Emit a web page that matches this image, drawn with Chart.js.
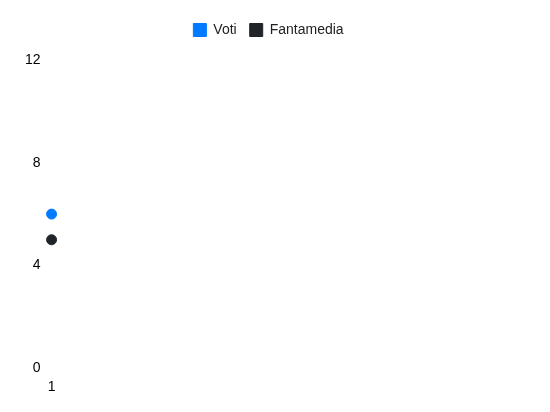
<!DOCTYPE html>
<html>
<head>
<meta charset="utf-8">
<script src="https://cdn.jsdelivr.net/npm/chart.js@4"></script>
<style>
  html, body { margin: 0; padding: 0; background: #fff; }
  #wrap { width: 550px; height: 412px; }
</style>
</head>
<body>
<div id="wrap"><canvas id="my_Chart"></canvas></div>
<script>
var giornate = ["1"];
var voti = [6];
var fantamedia = [5];

Chart.defaults.font.family = "'Liberation Sans', Arial, sans-serif";
Chart.defaults.font.size = 14;
Chart.defaults.color = "#000";

// some room under the legend
var legendSpacer = {
	id: "legendSpacer",
	beforeInit: function (chart) {
		var origFit = chart.legend.fit;
		chart.legend.fit = function () {
			origFit.bind(chart.legend)();
			this.height += 13;
		};
	}
};

var ctx = document.getElementById("my_Chart").getContext("2d");
var myChart = new Chart(ctx, {
	type: "line",
	data: {
		labels: giornate,
		datasets: [
			{
				label: "Voti",
				data: voti,
				borderColor: "#007bff",
				backgroundColor: "#007bff",
				borderWidth: 1,
				pointRadius: 5,
				pointHoverRadius: 6,
				fill: false
			},
			{
				label: "Fantamedia",
				data: fantamedia,
				borderColor: "#212529",
				backgroundColor: "#212529",
				borderWidth: 1,
				pointRadius: 5,
				pointHoverRadius: 6,
				fill: false
			}
		]
	},
	options: {
		responsive: true,
		maintainAspectRatio: false,
		animation: false,
		layout: { padding: { left: 22, right: 35, top: 10, bottom: 13 } },
		plugins: {
			legend: {
				position: "top",
				labels: { boxWidth: 13, boxHeight: 13, padding: 13, color: "#222" }
			}
		},
		scales: {
			x: {
				grid: { display: false },
				border: { display: false },
				ticks: { color: "#000" }
			},
			y: {
				min: 0,
				max: 12,
				grid: { display: false },
				border: { display: false },
				ticks: { stepSize: 4, color: "#000" }
			}
		}
	},
	plugins: [legendSpacer]
});
</script>
</body>
</html>
